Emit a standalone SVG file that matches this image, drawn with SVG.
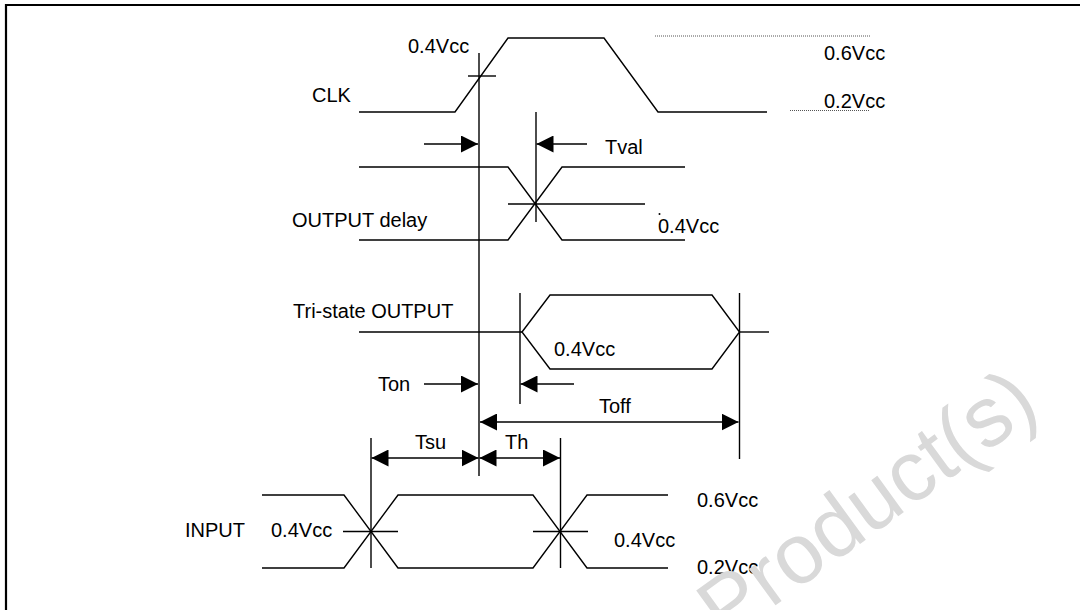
<svg xmlns="http://www.w3.org/2000/svg" width="1080" height="610" viewBox="0 0 1080 610">
<style>
.w{fill:none;stroke:#000;stroke-width:1.4}
.d{fill:none;stroke:#555;stroke-width:1;stroke-dasharray:1,1}
.a{fill:none;stroke:#000;stroke-width:1.4}
text{font-family:"Liberation Sans",Arial,sans-serif;font-size:20px;fill:#000}
.wm{font-size:85px;fill:#d9d9d9}
</style>
<defs>
<marker id="ah" markerUnits="userSpaceOnUse" markerWidth="17" markerHeight="17" viewBox="0 0 17 17" refX="17" refY="8.5" orient="auto-start-reverse">
<path d="M0,0 L17,8.5 L0,17 z" fill="#000"/>
</marker>
</defs>
<rect width="1080" height="610" fill="#fff"/>
<g id="frame">
<path d="M6,610 V5 H1080" fill="none" stroke="#000" stroke-width="2.2"/>
</g>
<g id="clk">
<polyline class="w" points="359,112 455,112 508,38 604,38 658,112 767,112"/>
<line class="w" x1="468" y1="76" x2="496" y2="76"/>
<line class="d" x1="655" y1="36" x2="870" y2="36"/>
<line class="d" x1="790" y1="110.5" x2="870" y2="110.5"/>
<text x="312" y="101.5">CLK</text>
<text x="408" y="53">0.4Vcc</text>
<text x="824" y="60">0.6Vcc</text>
<text x="824" y="108">0.2Vcc</text>
</g>
<g id="refs">
<line class="w" x1="479" y1="53" x2="479" y2="476"/>
<line class="w" x1="536" y1="112" x2="536" y2="222"/>
<line class="w" x1="520" y1="293" x2="520" y2="404"/>
<line class="w" x1="739.5" y1="293" x2="739.5" y2="459"/>
<line class="w" x1="371" y1="438" x2="371" y2="568"/>
<line class="w" x1="560.5" y1="438" x2="560.5" y2="568"/>
</g>
<g id="output-delay">
<polyline class="w" points="359,167 508,167 562,240 685,240"/>
<polyline class="w" points="359,240 508,240 562,167 685,167"/>
<line class="w" x1="508" y1="204" x2="645" y2="204"/>
<text x="292" y="227">OUTPUT delay</text>
<text x="658" y="233">0.4Vcc</text>
<circle cx="659.5" cy="214" r="1" fill="#000"/>
</g>
<g id="tristate-output">
<line class="w" x1="359" y1="332" x2="522" y2="332"/>
<polygon class="w" points="522,332 550,295 712,295 739.5,332 712,369 550,369"/>
<line class="w" x1="739.5" y1="332" x2="769" y2="332"/>
<text x="293" y="318">Tri-state OUTPUT</text>
<text x="554" y="356">0.4Vcc</text>
</g>
<g id="input">
<polyline class="w" points="262,495 344,495 398,568 533,568 587,495 668,495"/>
<polyline class="w" points="262,568 344,568 398,495 533,495 587,568 668,568"/>
<line class="w" x1="343" y1="531.5" x2="398" y2="531.5"/>
<line class="w" x1="533" y1="531.5" x2="588" y2="531.5"/>
<text x="245" y="537" text-anchor="end">INPUT</text>
<text x="271" y="537">0.4Vcc</text>
<text x="697" y="506.5">0.6Vcc</text>
<text x="614" y="546.5">0.4Vcc</text>
<text x="697" y="574">0.2Vcc</text>
</g>
<g id="connectors">
<line class="a" x1="424" y1="144" x2="478" y2="144" marker-end="url(#ah)"/>
<line class="a" x1="587" y1="144" x2="536.5" y2="144" marker-end="url(#ah)"/>
<line class="a" x1="424" y1="384" x2="478" y2="384" marker-end="url(#ah)"/>
<line class="a" x1="574" y1="384" x2="520.5" y2="384" marker-end="url(#ah)"/>
<line class="a" x1="480" y1="422" x2="738.5" y2="422" marker-start="url(#ah)" marker-end="url(#ah)"/>
<line class="a" x1="371.5" y1="458" x2="478.5" y2="458" marker-start="url(#ah)" marker-end="url(#ah)"/>
<line class="a" x1="479.5" y1="458" x2="560" y2="458" marker-start="url(#ah)" marker-end="url(#ah)"/>
<text x="605" y="154">Tval</text>
<text x="378" y="391">Ton</text>
<text x="599" y="413">Toff</text>
<text x="415" y="449">Tsu</text>
<text x="505" y="449">Th</text>
</g>
<g id="watermark">
<text class="wm" transform="translate(725,642) rotate(-36)">Product(s)</text>
</g>
</svg>
